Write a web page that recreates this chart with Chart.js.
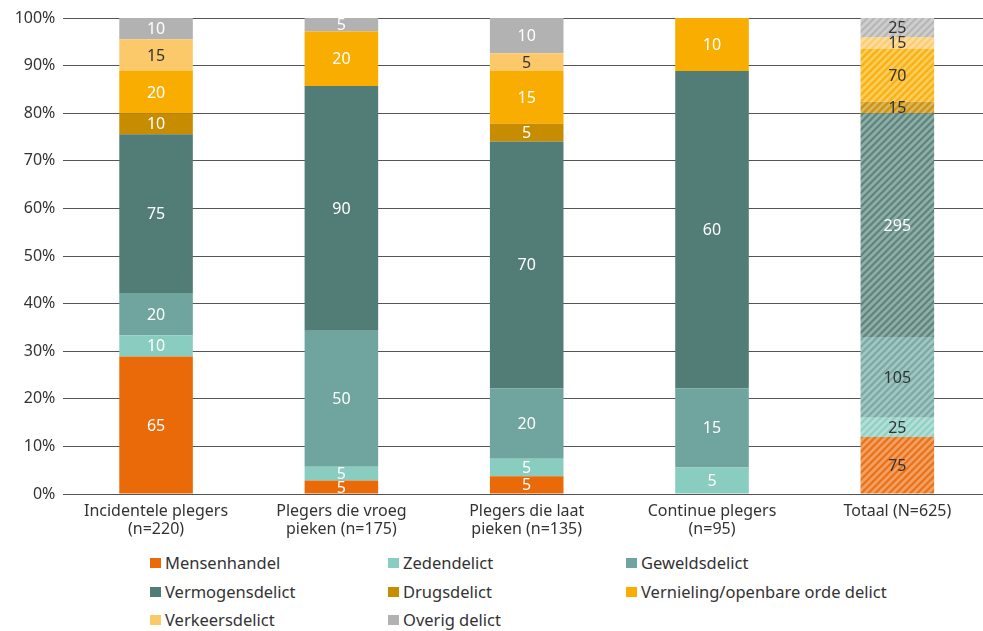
<!DOCTYPE html>
<html>
<head>
<meta charset="utf-8">
<script src="https://cdn.jsdelivr.net/npm/chart.js@4"></script>
<style>
  body { margin: 0; background: #fff; overflow: hidden; width: 983px; height: 631px; position: relative; }
  #legend { position: absolute; left: 0; top: 0; font-family: "Noto Sans", sans-serif; font-size: 16.5px; color: #333; }
  .item { position: absolute; white-space: nowrap; display: flex; align-items: center; }
  .box { width: 11px; height: 10px; margin-right: 4px; }
</style>
</head>
<body>
<canvas id="myChart" width="990" height="545"></canvas>
<div id="legend"></div>
<script>
// Categories
const categories = [
  ["Incidentele plegers", "(n=220)"],
  ["Plegers die vroeg", "pieken (n=175)"],
  ["Plegers die laat", "pieken (n=135)"],
  ["Continue plegers", "(n=95)"],
  ["Totaal (N=625)"],
];

// Counts per delict type (labels in the bars)
const mensenhandel = [65, 5, 5, 0, 75];
const zedendelict = [10, 5, 5, 5, 25];
const geweldsdelict = [20, 50, 20, 15, 105];
const vermogensdelict = [75, 90, 70, 60, 295];
const drugsdelict = [10, 0, 5, 0, 15];
const vernieling = [20, 20, 15, 10, 70];
const verkeersdelict = [15, 0, 5, 0, 15];
const overig = [10, 5, 10, 0, 25];

const yTicks = [0, 10, 20, 30, 40, 50, 60, 70, 80, 90, 100];

const series = [
  { name: "Mensenhandel", data: mensenhandel, color: "#ea6a0a", text: "#fff" },
  { name: "Zedendelict", data: zedendelict, color: "#89cdc1", text: "#fff" },
  { name: "Geweldsdelict", data: geweldsdelict, color: "#6fa59e", text: "#fff" },
  { name: "Vermogensdelict", data: vermogensdelict, color: "#527d76", text: "#fff" },
  { name: "Drugsdelict", data: drugsdelict, color: "#c78c00", text: "#fff" },
  { name: "Vernieling/openbare orde delict", data: vernieling, color: "#f8ad00", text: "#fff" },
  { name: "Verkeersdelict", data: verkeersdelict, color: "#fcc96a", text: "#333" },
  { name: "Overig delict", data: overig, color: "#b2b2b2", text: "#fff" },
];

// Column totals for 100% stacking
const totals = categories.map((c, i) =>
  series.reduce((s, d) => s + d.data[i], 0)
);

// Lighten a hex colour
function mix(hex, amount) {
  let r = parseInt(hex.slice(1, 3), 16);
  let g = parseInt(hex.slice(3, 5), 16);
  let b = parseInt(hex.slice(5, 7), 16);
  r = Math.round(r + (255 - r) * amount);
  g = Math.round(g + (255 - g) * amount);
  b = Math.round(b + (255 - b) * amount);
  return "rgb(" + r + "," + g + "," + b + ")";
}

// Diagonal hatch pattern for the total bar
function hatch(hex) {
  const size = 7;
  const c = document.createElement("canvas");
  c.width = size;
  c.height = size;
  const ctx = c.getContext("2d");
  ctx.fillStyle = mix(hex, 0.05);
  ctx.fillRect(0, 0, size, size);
  ctx.strokeStyle = mix(hex, 0.36);
  ctx.lineWidth = 2.8;
  ctx.beginPath();
  ctx.moveTo(-1, size + 1);
  ctx.lineTo(size + 1, -1);
  ctx.moveTo(-1, 1);
  ctx.lineTo(1, -1);
  ctx.moveTo(size - 1, size + 1);
  ctx.lineTo(size + 1, size - 1);
  ctx.stroke();
  return ctx.createPattern(c, "repeat");
}

const datasets = series.map((s) => {
  const pattern = hatch(s.color);
  return {
    label: s.name,
    data: s.data.map((v, i) => (v / totals[i]) * 100),
    counts: s.data,
    textColor: s.text,
    backgroundColor: s.data.map((v, i) => (i === 4 ? pattern : s.color)),
    borderWidth: 0,
    barPercentage: 0.397,
    categoryPercentage: 1,
  };
});

// Draw the counts inside the segments
const barLabels = {
  id: "barLabels",
  afterDatasetsDraw(chart) {
    const ctx = chart.ctx;
    ctx.save();
    ctx.font = '16px "Noto Sans"';
    ctx.textAlign = "center";
    ctx.textBaseline = "middle";
    chart.data.datasets.forEach((ds, di) => {
      const meta = chart.getDatasetMeta(di);
      meta.data.forEach((bar, i) => {
        const v = ds.counts[i];
        if (!v) return;
        let color = ds.textColor;
        if (i === 4 && ds.label !== "Vermogensdelict") color = "#333";
        ctx.fillStyle = color;
        ctx.fillText(v, bar.x, (bar.y + bar.base) / 2 + 1);
      });
    });
    ctx.restore();
  },
};

new Chart("myChart", {
  type: "bar",
  data: {
    labels: categories,
    datasets: datasets,
  },
  options: {
    responsive: false,
    animation: false,
    layout: {
      padding: { top: 18, right: 0, left: 0, bottom: 0 },
    },
    scales: {
      x: {
        stacked: true,
        grid: { display: false, drawTicks: false },
        border: { display: false },
        ticks: {
          color: "#333",
          padding: 8,
          font: { size: 16, family: "Noto Sans", lineHeight: 1.15 },
          maxRotation: 0,
          autoSkip: false,
        },
        afterFit: (scale) => {
          scale.height = 51;
        },
      },
      y: {
        stacked: true,
        min: 0,
        max: 100,
        afterBuildTicks: (scale) => {
          scale.ticks = yTicks.map((v) => ({ value: v }));
        },
        grid: {
          color: "#555",
          lineWidth: 1,
          drawTicks: false,
        },
        border: { display: false },
        ticks: {
          color: "#333",
          padding: 8,
          font: { size: 16, family: "Noto Sans" },
          callback: (v) => v + "%",
        },
        afterFit: (scale) => {
          scale.width = 63.4;
        },
      },
    },
    plugins: {
      legend: { display: false },
      tooltip: { enabled: false },
    },
  },
  plugins: [barLabels],
});

// Legend in three columns below the chart
const legendX = [150, 388, 626];
const legendY = [563, 592, 620];
const legend = document.getElementById("legend");
series.forEach((s, i) => {
  const item = document.createElement("div");
  item.className = "item";
  item.style.left = legendX[i % 3] + "px";
  item.style.top = legendY[Math.floor(i / 3)] - 12 + "px";
  item.innerHTML =
    '<span class="box" style="background:' + s.color + '"></span>' + s.name;
  legend.appendChild(item);
});
</script>
</body>
</html>
